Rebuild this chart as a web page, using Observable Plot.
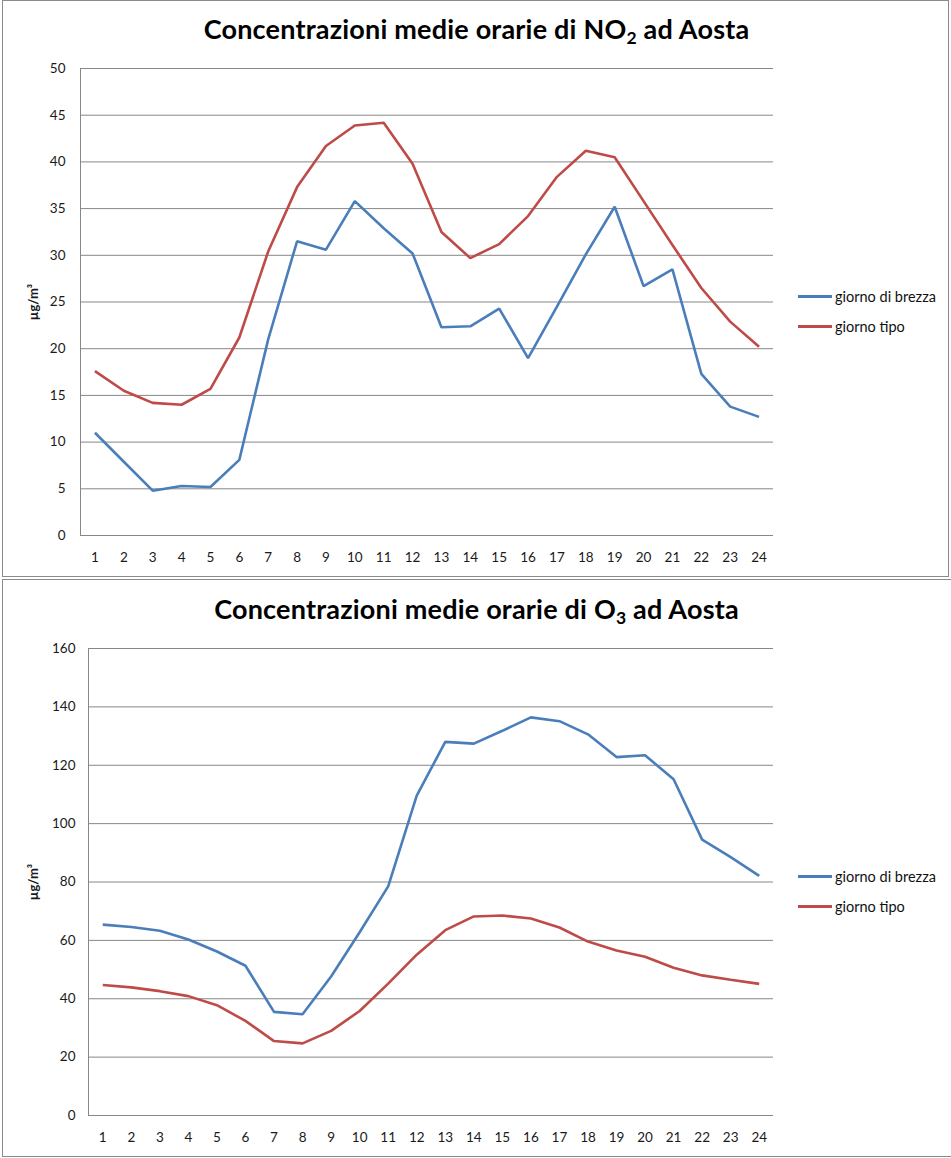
<!DOCTYPE html>
<html>
<head>
<meta charset="utf-8">
<script src="https://cdn.jsdelivr.net/npm/d3@7"></script>
<script src="https://cdn.jsdelivr.net/npm/@observablehq/plot@0.6"></script>
<style>
  html, body { margin: 0; padding: 0; background: #fff; }
  body { width: 951px; height: 1158px; position: relative; font-family: Lato, "Open Sans", sans-serif; overflow: hidden; }
  .panel { position: absolute; left: 2px; background: #fff; box-sizing: border-box; border: 1.5px solid #8a8a8a; }
  .title { position: absolute; top: 13px; left: -2px; width: 951px; text-align: center; font-weight: bold; font-size: 27px; line-height: 32px; color: #000; letter-spacing: 0.2px; }
  .title sub { font-size: 0.65em; vertical-align: -0.3em; line-height: 0; }
  .chart { position: absolute; }
  .legend { position: absolute; left: 795px; top: 0; font-size: 14.5px; color: #111; }
  .legend .item { position: absolute; left: 0; white-space: nowrap; display: flex; align-items: center; }
  .legend .sw { display: inline-block; width: 34px; height: 3px; margin-right: 3px; }
  svg [aria-label="y-axis label"] text, svg [aria-label="y-axis label"] { font-weight: bold; font-size: 13px; }
</style>
</head>
<body>
<div id="root"></div>
<script>
const hours = [1,2,3,4,5,6,7,8,9,10,11,12,13,14,15,16,17,18,19,20,21,22,23,24];
const seriesNames = ["giorno di brezza", "giorno tipo"];
const seriesColors = ["#4a7ebb", "#be4b48"];

const no2Brezza = [11.0,7.9,4.8,5.3,5.2,8.1,21.0,31.5,30.6,35.8,32.9,30.2,22.3,22.4,24.3,19.0,24.5,30.1,35.2,26.7,28.5,17.3,13.8,12.7];
const no2Tipo   = [17.6,15.5,14.2,14.0,15.7,21.2,30.4,37.3,41.7,43.9,44.2,39.8,32.5,29.7,31.2,34.2,38.4,41.2,40.5,35.8,31.1,26.5,22.9,20.2];
const no2Ticks  = [0,5,10,15,20,25,30,35,40,45,50];

const o3Brezza = [65.4,64.6,63.3,60.3,56.2,51.3,35.5,34.7,47.6,62.8,78.5,109.6,128.0,127.4,131.8,136.4,135.1,130.6,122.8,123.4,115.2,94.5,88.5,82.1];
const o3Tipo   = [44.7,43.9,42.6,40.9,37.8,32.4,25.5,24.7,29.0,35.8,45.2,55.1,63.5,68.2,68.5,67.5,64.4,59.6,56.5,54.4,50.6,48.0,46.5,45.1];
const o3Ticks  = [0,20,40,60,80,100,120,140,160];

const yLabel = "µg/m³";

function makePanel(box, titleHtml, brezza, tipo, ticks, marginLeft, tickPadding) {
  const panel = document.createElement("div");
  panel.className = "panel";
  panel.style.top = box.top + "px";
  panel.style.width = box.width + "px";
  panel.style.height = box.height + "px";

  const title = document.createElement("div");
  title.className = "title";
  title.innerHTML = titleHtml;

  const rows = [];
  hours.forEach((h, i) => {
    rows.push({hour: h, value: brezza[i], series: seriesNames[0]});
  });
  hours.forEach((h, i) => {
    rows.push({hour: h, value: tipo[i], series: seriesNames[1]});
  });

  const chart = Plot.plot({
    width: 800,
    height: 575,
    marginTop: 68,
    marginBottom: 40,
    marginLeft: marginLeft,
    marginRight: 27,
    style: {fontFamily: "Lato, 'Open Sans', sans-serif", fontSize: "13.5px", color: "#1a1a1a", background: "transparent", overflow: "visible"},
    x: {type: "linear", domain: [0.5, 24.5], ticks: hours, tickFormat: d => String(d), label: null, tickSize: 0, tickPadding: 17},
    y: {domain: [ticks[0], ticks[ticks.length - 1]], ticks: ticks, tickSize: 0, tickPadding: tickPadding,
        label: yLabel, labelAnchor: "center", labelOffset: marginLeft - 28, labelArrow: "none"},
    color: {domain: seriesNames, range: seriesColors},
    marks: [
      Plot.gridY(ticks, {stroke: "#878787", strokeOpacity: 1, strokeWidth: 1}),
      Plot.frame({anchor: "left", stroke: "#878787", strokeWidth: 1}),
      Plot.line(rows, {x: "hour", y: "value", z: "series", stroke: "series", strokeWidth: 2.6, strokeLinejoin: "miter", strokeLinecap: "butt"})
    ]
  });
  chart.classList.add("chart");
  chart.style.left = (-2 - 1.5) + "px";
  chart.style.top = (-box.top + box.plotTop - 1.5) + "px";

  const legend = document.createElement("div");
  legend.className = "legend";
  seriesNames.forEach((name, i) => {
    const item = document.createElement("div");
    item.className = "item";
    item.style.top = (box.plotTop - box.top + 287 + i * 30) + "px";
    const sw = document.createElement("span");
    sw.className = "sw";
    sw.style.background = seriesColors[i];
    const t = document.createElement("span");
    t.textContent = name;
    item.appendChild(sw);
    item.appendChild(t);
    legend.appendChild(item);
  });

  title.style.top = (box.plotTop - box.top + 12) + "px";

  panel.appendChild(chart);
  panel.appendChild(title);
  panel.appendChild(legend);
  document.getElementById("root").appendChild(panel);
}

makePanel({top: 0, width: 947, height: 577, plotTop: 0}, "Concentrazioni medie orarie di NO<sub>2</sub> ad Aosta", no2Brezza, no2Tipo, no2Ticks, 80, 15);
makePanel({top: 579, width: 952, height: 578, plotTop: 580}, "Concentrazioni medie orarie di O<sub>3</sub> ad Aosta", o3Brezza, o3Tipo, o3Ticks, 88, 13);
</script>
</body>
</html>
